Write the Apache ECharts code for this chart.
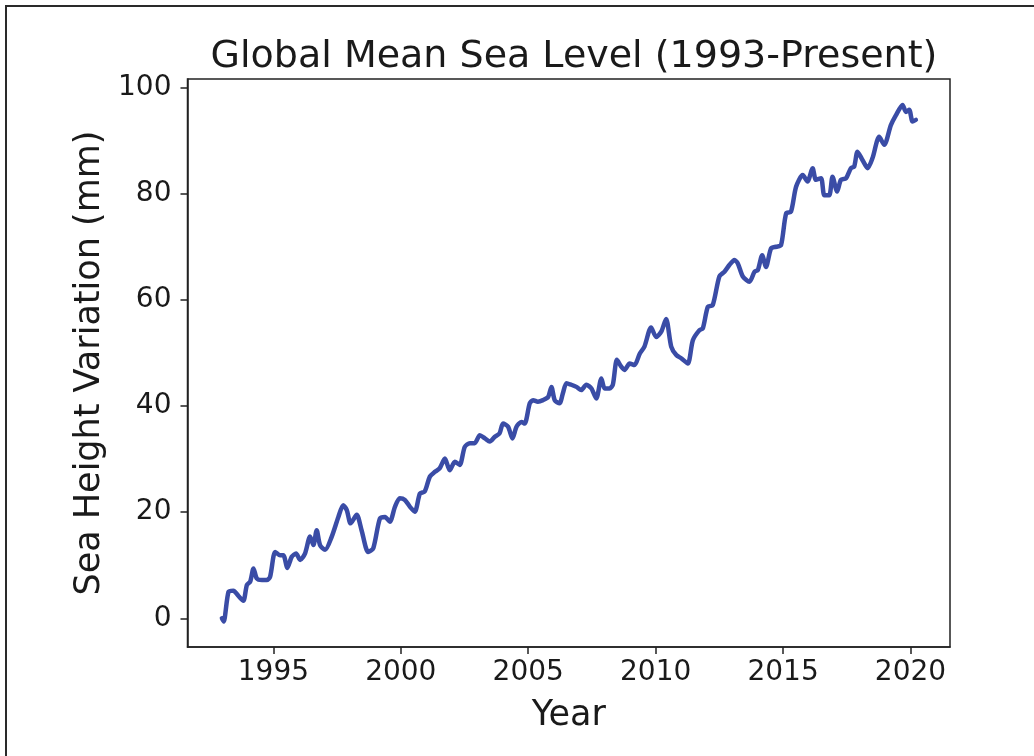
<!DOCTYPE html>
<html>
<head>
<meta charset="utf-8">
<script src="https://cdn.jsdelivr.net/npm/echarts@6/dist/echarts.min.js"></script>
<style>
  html, body { margin: 0; padding: 0; background: #fff; }
  #chart { width: 1034px; height: 756px; }
</style>
</head>
<body>
<div id="chart"></div>
<script>
// Decimal year of each reading
const years = [
  1992.98, 1993.05, 1993.24, 1993.43, 1993.63, 1993.82, 1993.96, 1994.09, 1994.22, 1994.35,
  1994.55, 1994.74, 1994.87, 1995.07, 1995.26, 1995.39, 1995.55, 1995.72, 1995.89, 1996.05,
  1996.24, 1996.44, 1996.57, 1996.70, 1996.83, 1997.03, 1997.29, 1997.55, 1997.74, 1997.88,
  1998.03, 1998.27, 1998.46, 1998.72, 1998.92, 1999.18, 1999.38, 1999.57, 1999.77, 1999.96,
  2000.16, 2000.36, 2000.55, 2000.75, 2000.94, 2001.14, 2001.34, 2001.53, 2001.73, 2001.92,
  2002.12, 2002.31, 2002.51, 2002.71, 2002.90, 2003.10, 2003.30, 2003.49, 2003.69, 2003.88,
  2004.01, 2004.21, 2004.38, 2004.54, 2004.73, 2004.86, 2005.06, 2005.19, 2005.38, 2005.58,
  2005.78, 2005.91, 2006.04, 2006.23, 2006.36, 2006.50, 2006.69, 2006.89, 2007.08, 2007.28,
  2007.48, 2007.67, 2007.87, 2008.00, 2008.19, 2008.32, 2008.48, 2008.65, 2008.78, 2008.98,
  2009.17, 2009.37, 2009.56, 2009.82, 2010.02, 2010.22, 2010.41, 2010.61, 2010.81, 2011.00,
  2011.26, 2011.46, 2011.72, 2011.85, 2012.05, 2012.24, 2012.50, 2012.70, 2012.90, 2013.09,
  2013.22, 2013.42, 2013.68, 2013.88, 2014.01, 2014.18, 2014.33, 2014.53, 2014.73, 2014.92,
  2015.12, 2015.31, 2015.51, 2015.77, 2015.96, 2016.16, 2016.29, 2016.49, 2016.62, 2016.81,
  2016.94, 2017.12, 2017.27, 2017.47, 2017.66, 2017.79, 2017.92, 2018.12, 2018.32, 2018.51,
  2018.77, 2018.97, 2019.23, 2019.43, 2019.69, 2019.82, 2019.95, 2020.08, 2020.21
];

// Sea height variation (mm)
const gmsl = [
  0.0, -0.6, 5.0, 5.2, 4.2, 3.3, 6.3, 6.9, 9.4, 7.5,
  7.2, 7.2, 7.8, 12.5, 11.9, 11.9, 9.5, 11.6, 12.2, 11.0,
  12.2, 15.4, 13.8, 16.6, 13.8, 12.9, 15.4, 19.1, 21.3, 20.4,
  17.9, 19.5, 16.6, 12.5, 13.2, 18.8, 19.1, 18.2, 21.0, 22.6,
  22.3, 21.0, 20.1, 23.5, 23.9, 26.7, 27.6, 28.3, 30.1, 27.9,
  29.5, 28.9, 32.3, 33.0, 33.0, 34.5, 33.9, 33.3, 34.2, 34.9,
  36.7, 36.1, 33.9, 36.1, 37.0, 36.7, 40.5, 41.1, 40.8, 41.1,
  41.7, 43.6, 41.1, 40.5, 42.4, 44.3, 44.0, 43.6, 43.0, 44.0,
  43.3, 41.4, 45.2, 43.3, 43.3, 44.0, 48.7, 47.4, 46.8, 48.0,
  47.7, 49.8, 51.2, 54.8, 53.0, 54.0, 56.4, 51.2, 49.6, 49.0,
  48.0, 52.4, 54.3, 54.6, 58.7, 59.0, 64.4, 65.3, 66.6, 67.5,
  66.9, 64.4, 63.4, 65.3, 65.6, 68.4, 66.2, 69.7, 70.0, 70.3,
  76.3, 76.6, 81.3, 83.5, 82.3, 84.8, 82.6, 82.9, 79.7, 79.7,
  83.2, 80.4, 82.6, 82.9, 84.8, 85.1, 87.9, 86.3, 84.8, 86.7,
  90.7, 89.2, 92.9, 94.8, 96.7, 95.4, 95.8, 93.6, 93.9
];

// Tick positions shown on each axis
const yearTicks = [1995, 2000, 2005, 2010, 2015, 2020];
const heightTicks = [0, 20, 40, 60, 80, 100];

const points = years.map((y, i) => [y, gmsl[i]]);
const FONT = 'DejaVu Sans';
const INK = '#1a1a1a';

const chart = echarts.init(document.getElementById('chart'), null, { renderer: 'canvas' });
chart.setOption({
  backgroundColor: '#ffffff',
  animation: false,
  title: {
    text: 'Global Mean Sea Level (1993-Present)',
    left: 569,
    top: 33,
    textAlign: 'center',
    textStyle: { fontFamily: FONT, fontSize: 38, fontWeight: 'normal', color: INK }
  },
  graphic: [{
    type: 'rect',
    silent: true,
    shape: { x: 6, y: 6, width: 1100, height: 800 },
    style: { fill: null, stroke: '#2a2a2a', lineWidth: 2 }
  }],
  grid: {
    left: 187.5, top: 79, right: 84, bottom: 109,
    show: true, borderColor: '#222', borderWidth: 1.5, backgroundColor: 'transparent'
  },
  xAxis: {
    type: 'value',
    min: 1991.63,
    max: 2021.55,
    name: 'Year',
    nameLocation: 'middle',
    nameGap: 51,
    nameTextStyle: { fontFamily: FONT, fontSize: 35, color: INK },
    axisLine: { show: true, onZero: false, lineStyle: { color: '#222', width: 1.5 } },
    axisTick: { show: true, customValues: yearTicks, length: 7, lineStyle: { color: '#222', width: 1.5 } },
    axisLabel: {
      customValues: yearTicks, fontFamily: FONT, fontSize: 28, color: INK, margin: 12,
      formatter: v => String(v)
    },
    splitLine: { show: false }
  },
  yAxis: {
    type: 'value',
    min: -5.4,
    max: 101.6,
    name: 'Sea Height Variation (mm)',
    nameLocation: 'middle',
    nameGap: 67,
    nameTextStyle: { fontFamily: FONT, fontSize: 35, color: INK },
    axisLine: { show: true, onZero: false, lineStyle: { color: '#222', width: 1.5 } },
    axisTick: { show: true, customValues: heightTicks, length: 7, lineStyle: { color: '#222', width: 1.5 } },
    axisLabel: {
      customValues: heightTicks, fontFamily: FONT, fontSize: 28, color: INK, margin: 16,
      formatter: v => String(v)
    },
    splitLine: { show: false }
  },
  series: [{
    type: 'line',
    data: points,
    showSymbol: false,
    smooth: 0.25,
    lineStyle: { color: '#3a4ca6', width: 4.5, join: 'round', cap: 'round' },
    itemStyle: { color: '#3a4ca6' }
  }]
});
</script>
</body>
</html>
